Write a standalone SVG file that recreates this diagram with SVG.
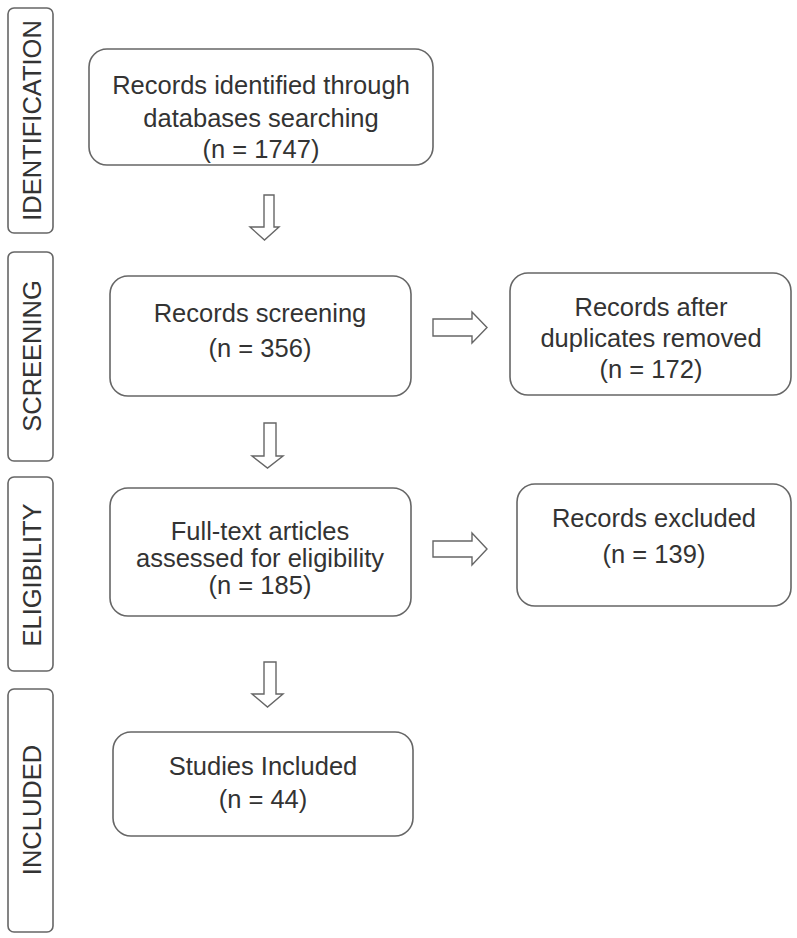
<svg xmlns="http://www.w3.org/2000/svg" width="797" height="938" viewBox="0 0 797 938">
<style>
.box{fill:#fff;stroke:#666;stroke-width:1.6}
.side{fill:#fff;stroke:#666;stroke-width:1.6}
.t{font-family:"Liberation Sans",Arial,sans-serif;font-size:25.5px;fill:#333;text-anchor:middle}
.arr{fill:#fff;stroke:#666;stroke-width:1.4;stroke-linejoin:miter}
</style>
<rect width="797" height="938" fill="#fff"/>
<g id="stage-identification">
<rect class="side" x="8" y="8" width="45" height="225" rx="6"/>
<text class="t" transform="translate(41,120.5) rotate(-90)">IDENTIFICATION</text>
</g>
<g id="stage-screening">
<rect class="side" x="8" y="252" width="45" height="209" rx="6"/>
<text class="t" transform="translate(41,356) rotate(-90)">SCREENING</text>
</g>
<g id="stage-eligibility">
<rect class="side" x="8" y="477" width="45" height="194" rx="6"/>
<text class="t" transform="translate(41,575) rotate(-90)">ELIGIBILITY</text>
</g>
<g id="stage-included">
<rect class="side" x="8" y="689" width="45" height="243" rx="6"/>
<text class="t" transform="translate(41,810) rotate(-90)">INCLUDED</text>
</g>
<g id="identified">
<rect class="box" x="89" y="49" width="344" height="116" rx="18"/>
<text class="t" x="261" y="94">Records identified through</text>
<text class="t" x="261" y="127">databases searching</text>
<text class="t" x="261" y="158">(n = 1747)</text>
</g>
<g id="screening">
<rect class="box" x="110" y="276" width="301" height="120" rx="18"/>
<text class="t" x="260" y="322">Records screening</text>
<text class="t" x="260" y="357">(n = 356)</text>
</g>
<g id="duplicates">
<rect class="box" x="510" y="273" width="281" height="122" rx="18"/>
<text class="t" x="651" y="316">Records after</text>
<text class="t" x="651" y="347">duplicates removed</text>
<text class="t" x="651" y="378">(n = 172)</text>
</g>
<g id="fulltext">
<rect class="box" x="110" y="488" width="301" height="128" rx="18"/>
<text class="t" x="260" y="540">Full-text articles</text>
<text class="t" x="260" y="567">assessed for eligibility</text>
<text class="t" x="260" y="594">(n = 185)</text>
</g>
<g id="excluded">
<rect class="box" x="517" y="484" width="274" height="122" rx="18"/>
<text class="t" x="654" y="527">Records excluded</text>
<text class="t" x="654" y="563">(n = 139)</text>
</g>
<g id="included">
<rect class="box" x="113" y="732" width="300" height="104" rx="18"/>
<text class="t" x="263" y="775">Studies Included</text>
<text class="t" x="263" y="808">(n = 44)</text>
</g>
<g id="connectors">
<path class="arr" d="M264,195 H274 V227 H279 L264.5,240 L250,227 H264 Z"/>
<path class="arr" d="M264,423 H276 V456 H283 L267.5,468 L252,456 H264 Z"/>
<path class="arr" d="M264,662 H276 V694 H283 L267.5,707 L252,694 H264 Z"/>
<path class="arr" d="M433,319 H472 V312 L487,327.5 L472,343 V336 H433 Z"/>
<path class="arr" d="M433,541 H472 V533 L487,549 L472,565 V557 H433 Z"/>
</g>
</svg>
